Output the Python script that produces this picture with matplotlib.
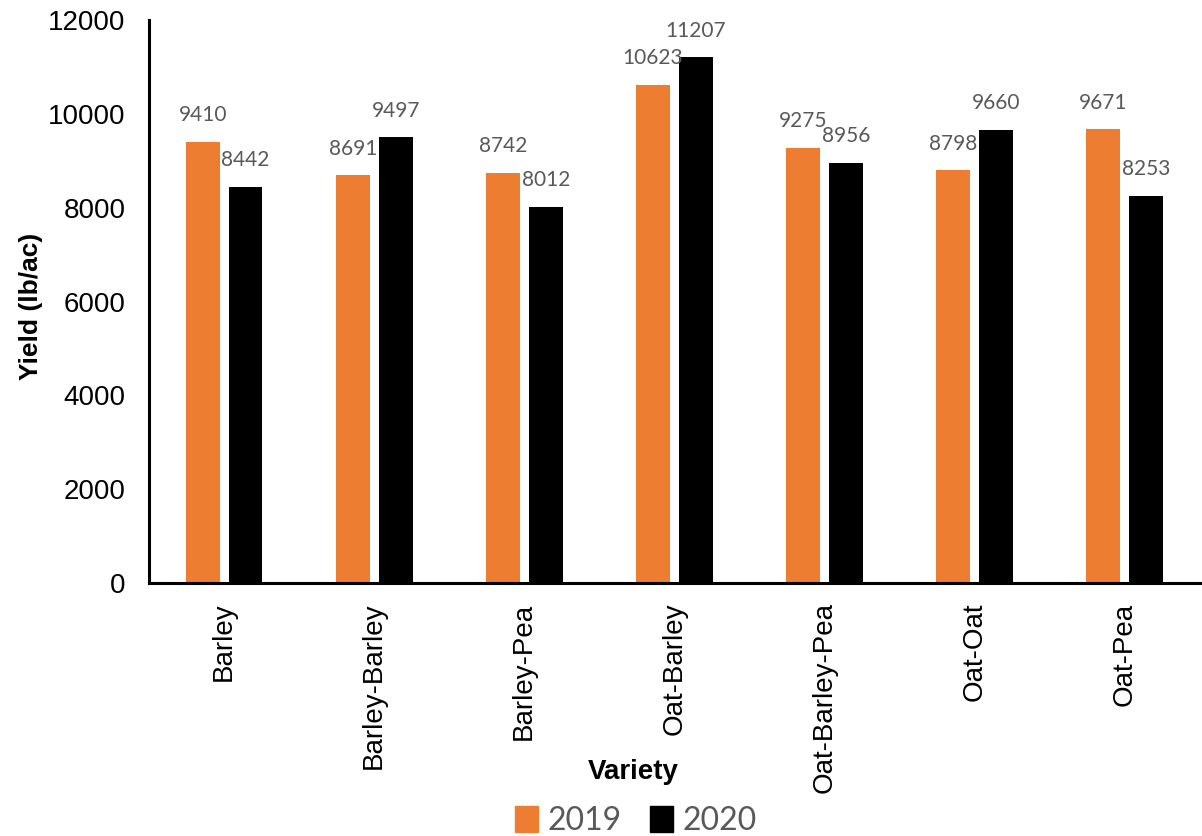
import numpy as np
import matplotlib.pyplot as plt
from matplotlib.patches import Patch

varieties = ['Barley', 'Barley-Barley', 'Barley-Pea', 'Oat-Barley',
             'Oat-Barley-Pea', 'Oat-Oat', 'Oat-Pea']
yield_2019 = [9410, 8691, 8742, 10623, 9275, 8798, 9671]
yield_2020 = [8442, 9497, 8012, 11207, 8956, 9660, 8253]
years = ['2019', '2020']
colors = ['#ED7D31', '#000000']

plt.rcParams['font.family'] = ['Liberation Sans', 'DejaVu Sans']

fig = plt.figure(figsize=(12.02, 8.36), dpi=100)
ax = fig.add_axes([0.124, 0.3026, 0.874, 0.6735])

x = np.arange(len(varieties))
w = 0.225
off = 0.143
for vals, dx, c in [(yield_2019, -off, colors[0]), (yield_2020, off, colors[1])]:
    bars = ax.bar(x + dx, vals, w, color=c)
    for b, v in zip(bars, vals):
        ax.annotate(str(v), (b.get_x() + b.get_width() / 2, v),
                    xytext=(0, 12), textcoords='offset points',
                    ha='center', va='bottom', fontsize=15,
                    color='#595959', family='Lato')

ax.set_xlim(-0.5, len(varieties) - 0.5)
ax.set_ylim(0, 12000)
ax.set_yticks(range(0, 12001, 2000))
ax.set_xticks(x)
ax.set_xticklabels(varieties, rotation=90, fontsize=20)
ax.tick_params(axis='y', length=0, pad=17, labelsize=20)
ax.tick_params(axis='x', length=0, pad=14)

for s in ['top', 'right']:
    ax.spines[s].set_visible(False)
for s in ['left', 'bottom']:
    ax.spines[s].set_linewidth(2.2)

# axis titles placed directly on the figure
fig.text(0.026, 0.634, 'Yield (lb/ac)', rotation=90, ha='center', va='center',
         fontsize=19, fontweight='bold')
fig.text(0.527, 0.076, 'Variety', ha='center', va='center',
         fontsize=20, fontweight='bold')

handles = [Patch(color=c, label=y) for c, y in zip(colors, years)]
leg = fig.legend(handles=handles, loc='center', bbox_to_anchor=(0.529, 0.018),
                 ncol=2, frameon=False, handlelength=0.7, handleheight=0.9,
                 handletextpad=0.3, columnspacing=0.9,
                 prop={'family': 'Lato', 'size': 23})
for t in leg.get_texts():
    t.set_color('#595959')

fig.savefig('out.png', dpi=100)
